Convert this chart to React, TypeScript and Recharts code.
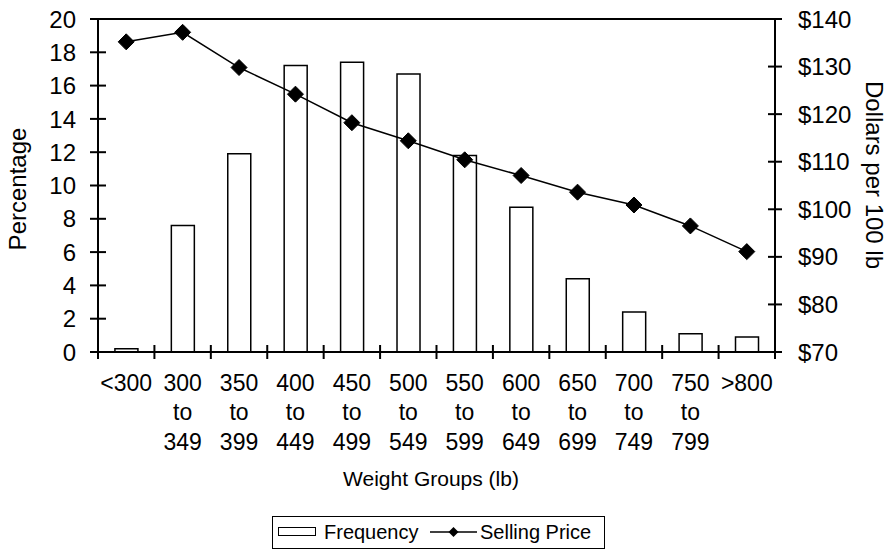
import React from 'react';
import { ComposedChart, Bar, Line, XAxis, YAxis, ReferenceLine, Legend } from 'recharts';

const categories = [
  '<300',
  '300\nto\n349',
  '350\nto\n399',
  '400\nto\n449',
  '450\nto\n499',
  '500\nto\n549',
  '550\nto\n599',
  '600\nto\n649',
  '650\nto\n699',
  '700\nto\n749',
  '750\nto\n799',
  '>800',
];
const frequency = [0.2, 7.6, 11.9, 17.2, 17.4, 16.7, 11.8, 8.7, 4.4, 2.4, 1.1, 0.9];
const sellingPrice = [135.2, 137.2, 129.8, 124.2, 118.2, 114.4, 110.4, 107.1, 103.6, 100.9, 96.5, 91.1];
const leftTicks = [0, 2, 4, 6, 8, 10, 12, 14, 16, 18, 20];
const rightTicks = [70, 80, 90, 100, 110, 120, 130, 140];
const seriesNames = ['Frequency', 'Selling Price'];

const data = categories.map((c, i) => ({ category: c, frequency: frequency[i], price: sellingPrice[i] }));

const FONT = "'Liberation Sans', Arial, sans-serif";

const XTick = (props: any) => {
  const { x, y, payload, index, width } = props;
  const n = categories.length;
  const bw = (typeof width === 'number' && width > 0 ? width : 677) / n;
  const lines = String(payload.value).split('\n');
  return (
    <g>
      <line x1={x - bw / 2} x2={x - bw / 2} y1={y - 7} y2={y + 7} stroke="#000" strokeWidth={2} />
      {index === n - 1 && (
        <line x1={x + bw / 2} x2={x + bw / 2} y1={y - 7} y2={y + 7} stroke="#000" strokeWidth={2} />
      )}
      <text x={x} y={y} textAnchor="middle" fontSize={23} fontFamily={FONT} fill="#000">
        {lines.map((l, i) => (
          <tspan key={i} x={x} y={y + 39 + i * 29.3}>
            {l}
          </tspan>
        ))}
      </text>
    </g>
  );
};

const LeftTick = (props: any) => {
  const { x, y, payload } = props;
  return (
    <g>
      <line x1={x - 8} x2={x + 8} y1={y} y2={y} stroke="#000" strokeWidth={2} />
      <text x={x - 22} y={y} dy="0.36em" textAnchor="end" fontSize={24} fontFamily={FONT} fill="#000">
        {payload.value}
      </text>
    </g>
  );
};

const RightTick = (props: any) => {
  const { x, y, payload } = props;
  return (
    <g>
      <line x1={x - 7} x2={x + 7} y1={y} y2={y} stroke="#000" strokeWidth={2} />
      <text x={x + 23} y={y} dy="0.36em" textAnchor="start" fontSize={24} fontFamily={FONT} fill="#000">
        {'$' + payload.value}
      </text>
    </g>
  );
};

const Diamond = (props: any) => {
  const { cx, cy, index } = props;
  if (cx == null || cy == null) return <g key={index} />;
  const r = 8;
  return (
    <polygon
      key={index}
      points={`${cx},${cy - r} ${cx + r},${cy} ${cx},${cy + r} ${cx - r},${cy}`}
      fill="#000"
      stroke="#000"
    />
  );
};

const LegendContent = () => (
  <div
    style={{
      position: 'relative',
      width: 333,
      height: 33,
      border: '1.5px solid #000',
      boxSizing: 'border-box',
      fontFamily: FONT,
      fontSize: 20,
      color: '#000',
      background: '#fff',
    }}
  >
    <div
      style={{
        position: 'absolute',
        left: 5,
        top: 10,
        width: 38,
        height: 9,
        border: '1.5px solid #000',
        boxSizing: 'border-box',
      }}
    />
    <div style={{ position: 'absolute', left: 51, top: 0, height: 30, lineHeight: '30px', whiteSpace: 'nowrap' }}>
      {seriesNames[0]}
    </div>
    <svg style={{ position: 'absolute', left: 157, top: 7 }} width={47} height={16}>
      <line x1={0} x2={47} y1={8} y2={8} stroke="#000" strokeWidth={1.5} />
      <polygon points="23.5,3 28.5,8 23.5,13 18.5,8" fill="#000" />
    </svg>
    <div style={{ position: 'absolute', left: 207, top: 0, height: 30, lineHeight: '30px', whiteSpace: 'nowrap' }}>
      {seriesNames[1]}
    </div>
  </div>
);

export default function App() {
  return (
    <div style={{ position: 'absolute', left: 0, top: 0, width: 896, height: 552, background: '#fff' }}>
      <ComposedChart
        width={896}
        height={552}
        data={data}
        margin={{ top: 19, right: 0, bottom: 0, left: 0 }}
        barCategoryGap="30%"
      >
        <XAxis
          dataKey="category"
          height={200}
          interval={0}
          tickSize={0}
          tickMargin={0}
          axisLine={{ stroke: '#000', strokeWidth: 2 }}
          tickLine={false}
          tick={<XTick />}
          label={{
            content: () => (
              <text x={431} y={486} textAnchor="middle" fontSize={21} fontFamily={FONT} fill="#000">
                Weight Groups (lb)
              </text>
            ),
          }}
        />
        <YAxis
          yAxisId="left"
          domain={[0, 20]}
          ticks={leftTicks}
          interval={0}
          width={98}
          tickSize={0}
          tickMargin={0}
          axisLine={{ stroke: '#000', strokeWidth: 2 }}
          tickLine={false}
          tick={<LeftTick />}
          label={{
            content: () => (
              <text
                x={17}
                y={189}
                transform="rotate(-90 17 189)"
                textAnchor="middle"
                dy="0.36em"
                fontSize={24}
                fontFamily={FONT}
                fill="#000"
              >
                Percentage
              </text>
            ),
          }}
        />
        <YAxis
          yAxisId="right"
          orientation="right"
          domain={[70, 140]}
          ticks={rightTicks}
          interval={0}
          width={121}
          tickSize={0}
          tickMargin={0}
          axisLine={{ stroke: '#000', strokeWidth: 2 }}
          tickLine={false}
          tick={<RightTick />}
          label={{
            content: () => (
              <text
                x={875}
                y={175}
                transform="rotate(90 875 175)"
                textAnchor="middle"
                dy="0.36em"
                fontSize={24}
                fontFamily={FONT}
                fill="#000"
              >
                Dollars per 100 lb
              </text>
            ),
          }}
        />
        <ReferenceLine yAxisId="left" y={20} stroke="#000" strokeWidth={2} />
        <Bar
          yAxisId="left"
          dataKey="frequency"
          name={seriesNames[0]}
          fill="#fff"
          stroke="#000"
          strokeWidth={1.5}
          isAnimationActive={false}
        />
        <Line
          yAxisId="right"
          dataKey="price"
          name={seriesNames[1]}
          type="linear"
          stroke="#000"
          strokeWidth={1.5}
          dot={Diamond}
          activeDot={false}
          isAnimationActive={false}
        />
        <Legend
          layout="horizontal"
          verticalAlign="middle"
          align="center"
          wrapperStyle={{ top: 516, left: 272, width: 333, height: 33 }}
          content={<LegendContent />}
        />
      </ComposedChart>
    </div>
  );
}
